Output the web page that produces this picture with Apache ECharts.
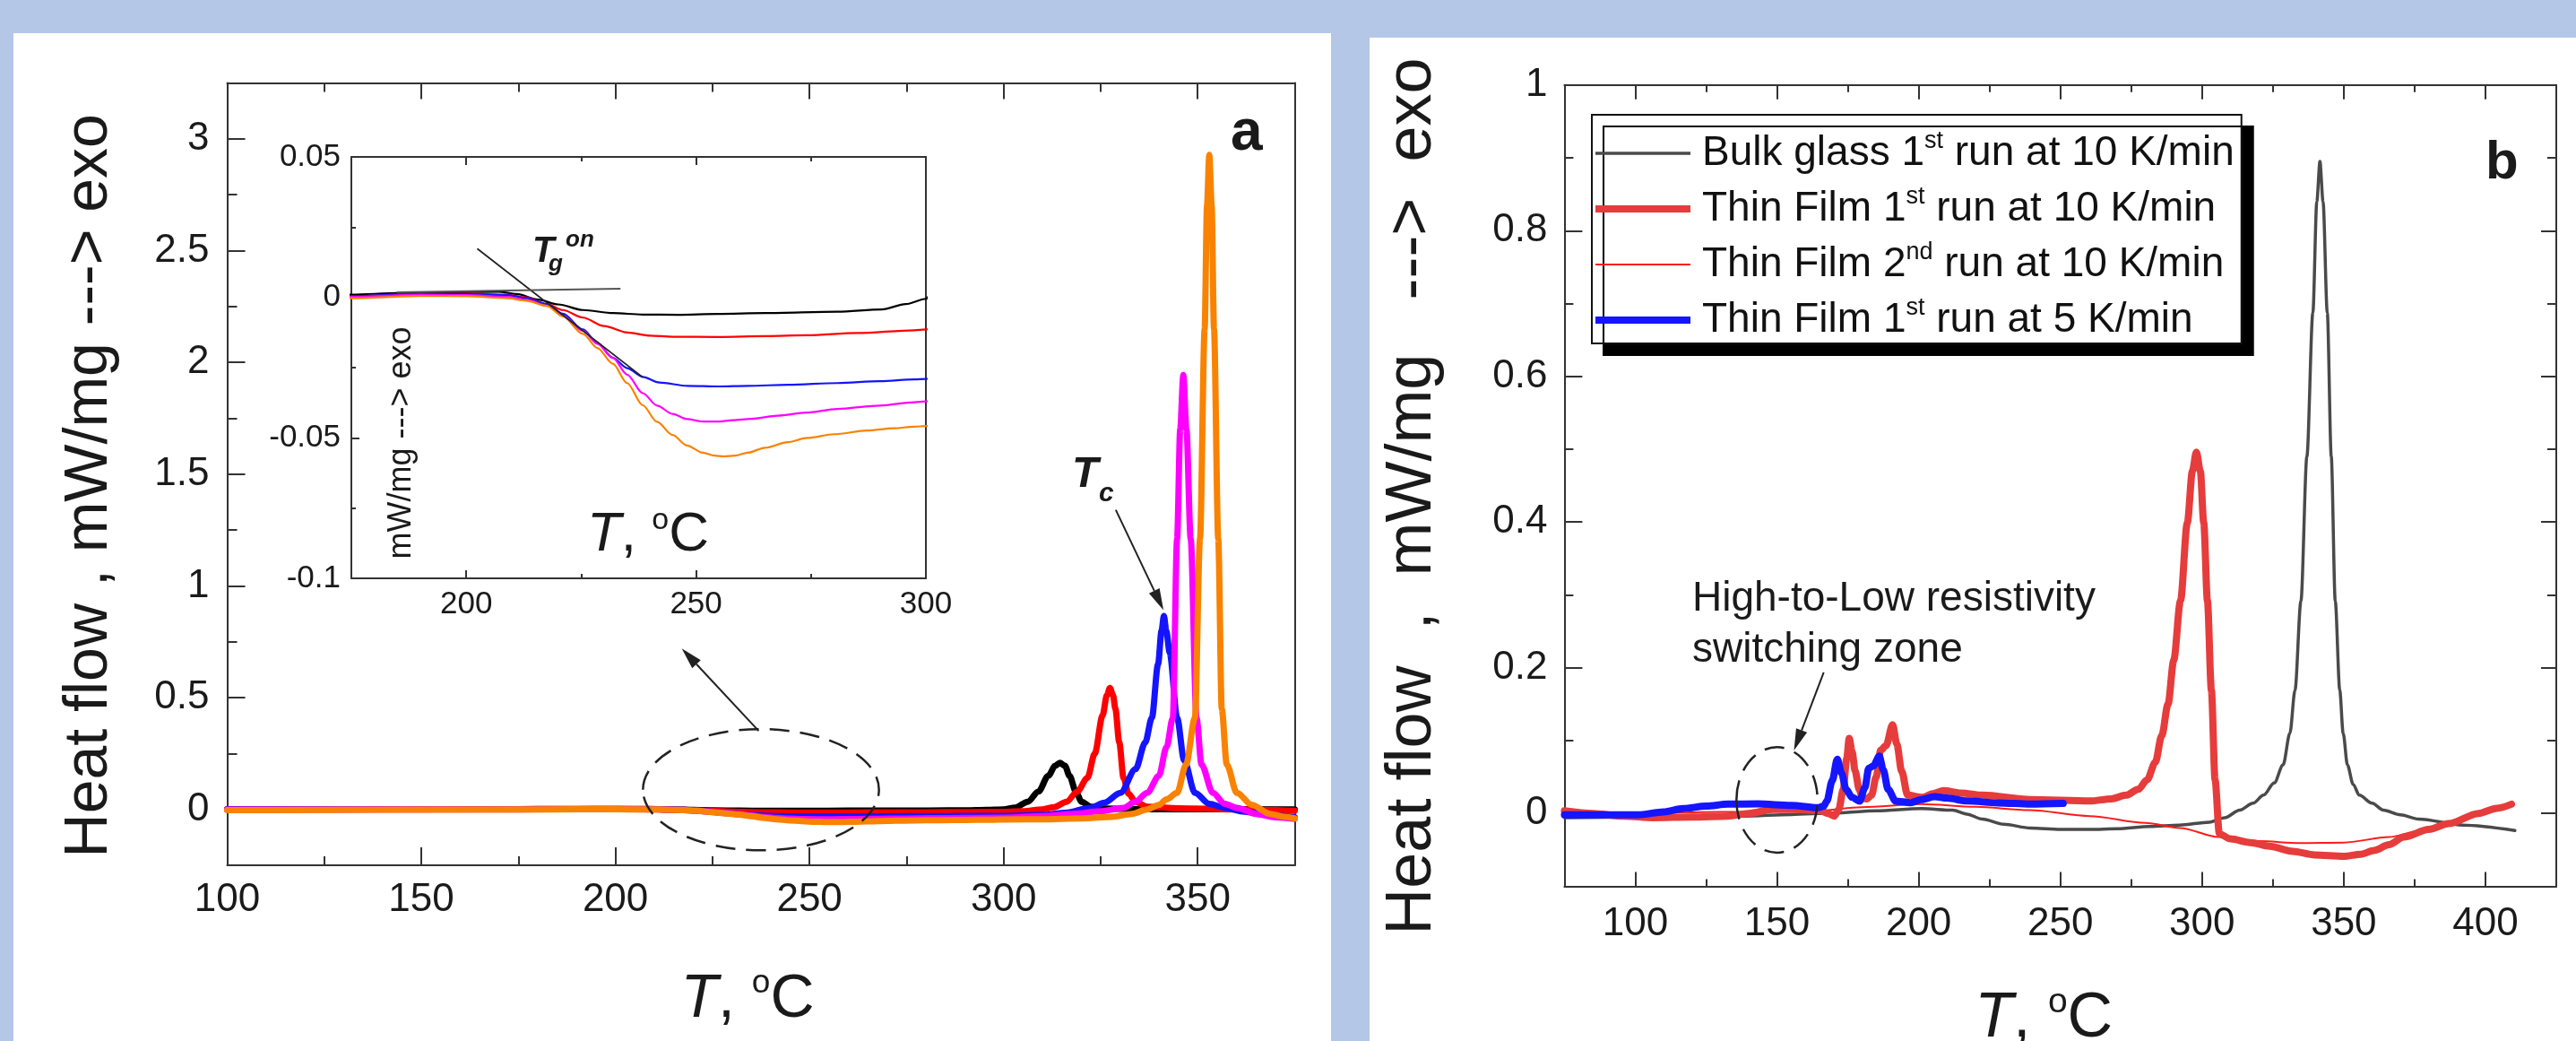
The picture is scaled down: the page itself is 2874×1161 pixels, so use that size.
<!DOCTYPE html>
<html>
<head>
<meta charset="utf-8">
<script src="https://cdn.jsdelivr.net/npm/echarts@6/dist/echarts.min.js"></script>
<style>
  html, body { margin: 0; padding: 0; background: #b4c7e7; }
  #chart { width: 2874px; height: 1161px; }
</style>
</head>
<body>
<div id="chart"></div>
<script>
// ---------- panel a: DSC scans of the thin films (T in °C, heat flow in mW/mg) ----------
const aBlack = [[100,0.001],[150,0.001],[175,0.001],[185,0.0015],[196,0.0018],[207,0.002],[211,0.0012],[215.6,-0.0008],[220,-0.0025],[225.4,-0.0045],[232,-0.0056],[238.4,-0.0061],[246,-0.0062],[254.7,-0.0059],[265,-0.0056],[280.7,-0.0051],[290.4,-0.0043],[295.6,-0.0024],[300,-0.0005],[303,0.008],[306.2,0.034],[309,0.08],[311.5,0.15],[313.3,0.195],[314.5,0.208],[315.8,0.195],[317,0.15],[318.6,0.08],[320.1,0.034],[322.5,0.012],[326,0.004],[335,0.001],[375,0.0]];
const aRed = [[100,0.0],[175,0.0005],[190,0.0012],[200,0.0013],[209,0.001],[213,0.0],[217.6,-0.0024],[221,-0.0045],[225.4,-0.0072],[230,-0.0102],[235.1,-0.0125],[240,-0.0136],[244.9,-0.014],[254.7,-0.0141],[265,-0.0138],[274.2,-0.0135],[285,-0.0127],[297.5,-0.0117],[300,-0.0114],[305,-0.008],[310,0.0],[313,0.01],[316.2,0.034],[319,0.08],[321.6,0.141],[323.5,0.25],[325.5,0.42],[326.6,0.51],[327.4,0.543],[328.2,0.51],[328.8,0.45],[329.8,0.3],[330.9,0.141],[332.2,0.07],[334,0.034],[337,0.012],[345,0.005],[360,0.0],[375,-0.006]];
const aBlue = [[100,0.0],[175,0.0005],[190,0.0012],[200,0.0012],[209,0.0008],[213,-0.0002],[217.6,-0.0024],[221,-0.0058],[225.4,-0.0114],[228.5,-0.0162],[231.9,-0.0215],[235,-0.0252],[238.4,-0.0283],[242,-0.0303],[248.2,-0.0315],[255,-0.0317],[261.2,-0.0315],[270,-0.0311],[280.7,-0.0305],[290,-0.0298],[297.5,-0.0292],[300,-0.029],[310,-0.025],[316,-0.015],[322.4,0.007],[326,0.03],[330.1,0.074],[334,0.18],[336.5,0.3],[338.2,0.41],[339.8,0.65],[340.7,0.8],[341.3,0.865],[341.9,0.8],[342.8,0.7],[344.7,0.41],[346.5,0.22],[349.3,0.074],[353,0.025],[357,0.007],[362,-0.01],[368,-0.025],[375,-0.035]];
const aMagenta = [[100,-0.001],[175,0.0002],[190,0.001],[200,0.0008],[209,0.0002],[213,-0.0008],[217.6,-0.003],[221,-0.0065],[225.4,-0.0119],[228.5,-0.0165],[231.9,-0.0215],[235,-0.0275],[238.4,-0.0341],[241.5,-0.0385],[244.9,-0.0415],[248,-0.0433],[251.5,-0.0442],[255,-0.0442],[258,-0.0437],[262,-0.0432],[267.7,-0.0421],[274,-0.041],[280.7,-0.0397],[290,-0.0385],[297.5,-0.0373],[300,-0.037],[310,-0.03],[318,-0.02],[325,-0.008],[330.9,0.007],[334,0.035],[337,0.074],[340,0.15],[342,0.28],[343.6,0.41],[344.7,1.21],[345.5,1.7],[346.3,1.943],[347.1,1.7],[348.2,1.21],[349.7,0.41],[351,0.2],[353.9,0.074],[357,0.025],[360.1,0.007],[365,-0.02],[370,-0.035],[375,-0.042]];
const aOrange = [[100,-0.003],[175,-0.0003],[190,0.0005],[200,0.0004],[209,-0.0003],[213,-0.0012],[217.6,-0.003],[221,-0.0068],[225.4,-0.013],[228.5,-0.018],[231.9,-0.0236],[235,-0.0305],[238.4,-0.0384],[241.5,-0.0443],[244.9,-0.049],[248,-0.0527],[251.5,-0.0553],[254,-0.0563],[256,-0.0566],[258.5,-0.0563],[261.2,-0.0553],[265,-0.0535],[270,-0.0515],[274.2,-0.05],[280,-0.0487],[287.2,-0.0474],[293,-0.0466],[297.5,-0.046],[300,-0.0458],[310,-0.044],[320,-0.04],[328,-0.033],[333,-0.02],[337,0.0],[340,0.02],[342,0.045],[344.7,0.074],[347,0.2],[349.3,0.41],[350.6,1.21],[351.8,2.15],[352.4,2.7],[353,2.928],[353.6,2.7],[354.2,2.15],[355.3,1.21],[356.2,0.45],[357.5,0.2],[360.1,0.074],[364,0.02],[368.6,-0.02],[372,-0.032],[375,-0.04]];

// tangent construction for the onset of the glass transition (inset)
const tgSteep = [[202.5,0.0172],[238.3,-0.0283]];
const tgFlat = [[185,0.0018],[233.4,0.0031]];

// ---------- panel b: bulk glass vs. thin film ----------
const bBulk = [[75,-0.006],[100,-0.005],[120,-0.0045],[138,-0.0037],[155,-0.0015],[170,0.0004],[185,0.0035],[201,0.0066],[212,0.0045],[217,-0.001],[222.5,-0.0078],[230,-0.015],[239.4,-0.02],[250,-0.022],[260.5,-0.022],[270,-0.021],[281.6,-0.018],[292,-0.016],[302.6,-0.012],[308,-0.006],[313.3,0.0045],[318,0.014],[321.7,0.025],[325.5,0.042],[328.6,0.0666],[331,0.11],[332.8,0.169],[334.9,0.292],[337,0.49],[339.1,0.687],[340.5,0.84],[341.6,0.895],[342.7,0.84],[344.2,0.687],[345.6,0.49],[347,0.292],[348.6,0.169],[349.8,0.11],[351.3,0.0666],[353.3,0.04],[355.5,0.025],[360,0.014],[364,0.0045],[370,-0.002],[376.4,-0.0078],[392,-0.016],[410.4,-0.0234]];
const bFilm1 = [[75,0.0037],[85,0.0],[95.7,-0.0037],[106.3,-0.0058],[120,-0.005],[132.7,-0.0037],[140,0.0],[148.5,0.0053],[157,0.0055],[165.4,0.0037],[168,0.0],[170.2,-0.0037],[171.8,0.005],[173.4,0.033],[174.6,0.075],[175.5,0.103],[176.5,0.085],[177.6,0.058],[179,0.033],[180.2,0.021],[181.8,0.02],[183.4,0.025],[185,0.05],[186.6,0.0868],[188.5,0.093],[190.8,0.1218],[192.3,0.095],[194,0.058],[196.1,0.025],[201.4,0.022],[205,0.027],[208.8,0.0313],[215,0.028],[222.5,0.025],[239.4,0.019],[260.5,0.017],[268,0.02],[273.2,0.025],[277.5,0.033],[280.6,0.046],[283.5,0.07],[285.8,0.107],[288,0.15],[290,0.21],[292.4,0.292],[294.8,0.399],[296.6,0.47],[298,0.496],[299.4,0.47],[300.6,0.399],[301.9,0.292],[303.3,0.169],[304.6,0.046],[306.1,-0.028],[310,-0.035],[317,-0.04],[323.8,-0.045],[332,-0.052],[339.7,-0.057],[350,-0.059],[356,-0.056],[360.7,-0.051],[366,-0.043],[371.2,-0.0325],[380,-0.022],[387,-0.014],[397.6,0.0],[404,0.007],[409.2,0.0127]];
const bFilm2 = [[75,0.001],[100,0.0],[130,0.002],[150,0.003],[164.4,0.0037],[180,0.0086],[201,0.0127],[220,0.009],[239,0.0045],[260.5,-0.0037],[280,-0.013],[292.2,-0.02],[305.9,-0.0325],[320,-0.038],[334.4,-0.0407],[350,-0.04],[366,-0.0325],[376.6,-0.024],[387,-0.014],[397.6,-0.001],[409.2,0.0125]];
const bFilm5 = [[75,-0.002],[101,-0.002],[110,0.002],[116.9,0.0066],[125,0.01],[132.7,0.0127],[143.3,0.013],[155,0.011],[164.4,0.0078],[166.5,0.01],[167.6,0.0169],[169.5,0.045],[171.3,0.0744],[172.8,0.055],[174.4,0.033],[176.5,0.022],[179.2,0.0169],[181,0.035],[182.4,0.062],[184,0.065],[186.1,0.0786],[187.5,0.06],[189.2,0.033],[191.9,0.0169],[197.1,0.0148],[201,0.019],[205.6,0.023],[210,0.021],[217.2,0.017],[228,0.0145],[239.4,0.0127],[251,0.0137]];

const legendNames = ['Bulk glass 1st run at 10 K/min','Thin Film 1st run at 10 K/min','Thin Film 2nd run at 10 K/min','Thin Film 1st run at 5 K/min'];

// ---------- tick values ----------
const aXMajor = [100,150,200,250,300,350];
const aXMinor = [125,175,225,275,325,375];
const aYMajor = [0,0.5,1,1.5,2,2.5,3];
const aYMinor = [0.25,0.75,1.25,1.75,2.25,2.75];
const inXMajor = [200,250,300];
const inXMinor = [175,225,275];
const inYMajor = [-0.1,-0.05,0,0.05];
const inYMinor = [-0.075,-0.025,0.025];
const bXMajor = [100,150,200,250,300,350,400];
const bXMinor = [75,125,175,225,275,325,375,425];
const bYMajor = [0,0.2,0.4,0.6,0.8,1];
const bYMinor = [-0.1,0.1,0.3,0.5,0.7,0.9];

// annotation anchors in data units
const ellipseA = { c: [237.5, 0.088], rx: 30.4, ry: 0.271 };
const ellipseB = { c: [150, 0.0185], rx: 14.3, ry: 0.0724 };
const arrowA = [[236.9, 0.351], [217.1, 0.72]];
const arrowTc = [[328.9, 1.34], [341.2, 0.891]];
const arrowB = [[166.5, 0.1937], [156, 0.0864]];

const FONT = '"Liberation Sans", Arial, Helvetica, sans-serif';
const INK = '#1a1a1a';
const AX = { color: '#333', width: 2 };

function ax(grid, pos, min, max, o) {
  const a = {
    type: 'value', gridIndex: grid, position: pos, min: min, max: max,
    axisLine: { show: !!o.line, onZero: false, lineStyle: AX },
    axisTick: { show: !!o.ticks, inside: true, length: o.len || 10, lineStyle: AX },
    axisLabel: { show: false },
    splitLine: { show: false }, splitArea: { show: false }
  };
  if (o.ticks) a.axisTick.customValues = o.ticks;
  if (o.labels) a.axisLabel = { show: true, customValues: o.labels, fontSize: o.fs, fontFamily: FONT, color: INK, margin: o.margin };
  if (o.name) Object.assign(a, o.name);
  return a;
}

const tTitle = (fs, gap, padRight) => ({
  name: '{i|T}{n|, }{s|o}{n|C}', nameLocation: 'middle', nameGap: gap,
  nameTextStyle: {
    color: INK, fontFamily: FONT, padding: [0, padRight, 0, 0],
    rich: {
      i: { fontSize: fs, fontStyle: 'italic', fontFamily: FONT, color: INK, lineHeight: fs + 6 },
      n: { fontSize: fs, fontFamily: FONT, color: INK, lineHeight: fs + 6 },
      s: { fontSize: Math.round(fs * 0.55), fontFamily: FONT, color: INK, lineHeight: Math.round(fs * 0.6), verticalAlign: 'top' }
    }
  }
});
const hTitle = (text, fs, gap, padRight) => ({
  name: text, nameLocation: 'middle', nameGap: gap,
  nameTextStyle: { fontSize: fs, fontFamily: FONT, color: INK, lineHeight: fs, padding: [0, padRight, 0, 0] }
});

const xAxis = [
  // panel a
  ax(0, 'bottom', 100, 375, { line: true, ticks: aXMajor, len: 20, labels: aXMajor, fs: 44, margin: 17, name: tTitle(68, 113, 30) }),
  ax(0, 'bottom', 100, 375, { ticks: aXMinor, len: 10 }),
  ax(0, 'top', 100, 375, { line: true, ticks: aXMajor, len: 18 }),
  ax(0, 'top', 100, 375, { ticks: aXMinor, len: 10 }),
  // inset
  ax(1, 'bottom', 175, 300, { line: true, ticks: inXMajor, len: 9, labels: inXMajor, fs: 35, margin: 12 }),
  ax(1, 'bottom', 175, 300, { ticks: inXMinor, len: 5 }),
  ax(1, 'top', 175, 300, { line: true, ticks: inXMajor, len: 9 }),
  ax(1, 'top', 175, 300, { ticks: inXMinor, len: 5 }),
  // panel b
  ax(2, 'bottom', 75, 425, { line: true, ticks: bXMajor, len: 16, labels: bXMajor, fs: 44, margin: 20, name: tTitle(70, 110, 37) }),
  ax(2, 'bottom', 75, 425, { ticks: bXMinor, len: 8 }),
  ax(2, 'top', 75, 425, { line: true, ticks: bXMajor, len: 16 }),
  ax(2, 'top', 75, 425, { ticks: bXMinor, len: 8 })
];
const yAxis = [
  // panel a
  ax(0, 'left', -0.25, 3.25, { line: true, ticks: aYMajor, len: 20, labels: aYMajor, fs: 44, margin: 20, name: hTitle('Heat flow , mW/mg ---> exo', 68, 119, 26) }),
  ax(0, 'left', -0.25, 3.25, { ticks: aYMinor, len: 11 }),
  ax(0, 'right', -0.25, 3.25, { line: true }),
  // inset
  ax(1, 'left', -0.1, 0.05, { line: true, ticks: inYMajor, len: 9, labels: inYMajor, fs: 35, margin: 12 }),
  ax(1, 'left', -0.1, 0.05, { ticks: inYMinor, len: 5 }),
  ax(1, 'right', -0.1, 0.05, { line: true }),
  // panel b
  ax(2, 'left', -0.1, 1, { line: true, ticks: bYMajor, len: 20, labels: bYMajor, fs: 44, margin: 19, name: hTitle('Heat flow  ,  mW/mg   --->  exo', 72, 133, 24) }),
  ax(2, 'left', -0.1, 1, { ticks: bYMinor, len: 10 }),
  ax(2, 'right', -0.1, 1, { line: true, ticks: bYMajor, len: 17 }),
  ax(2, 'right', -0.1, 1, { ticks: bYMinor, len: 10 })
];

function curve(name, data, xi, yi, color, width, z) {
  return {
    type: 'line', name: name, data: data, xAxisIndex: xi, yAxisIndex: yi,
    showSymbol: false, symbol: 'none', smooth: 0.3, smoothMonotone: 'x',
    lineStyle: { color: color, width: width, cap: 'round', join: 'round' },
    itemStyle: { color: color }, z: z, silent: true, clip: true
  };
}

const bWidths = [3.5, 8, 2, 8];
const series = [
  curve('a black', aBlack, 0, 0, '#000000', 7, 2),
  curve('a red', aRed, 0, 0, '#ff0000', 7, 3),
  curve('a blue', aBlue, 0, 0, '#1414ff', 7, 4),
  curve('a magenta', aMagenta, 0, 0, '#ff00ff', 7, 5),
  curve('a orange', aOrange, 0, 0, '#f98200', 7, 6),
  curve('inset black', aBlack, 4, 3, '#000000', 2.2, 12),
  curve('inset red', aRed, 4, 3, '#ff0000', 2.2, 12),
  curve('inset blue', aBlue, 4, 3, '#1414ff', 2.2, 12),
  curve('inset magenta', aMagenta, 4, 3, '#ff00ff', 2.2, 12),
  curve('inset orange', aOrange, 4, 3, '#f98200', 2.2, 12),
  Object.assign(curve('tangent steep', tgSteep, 4, 3, '#222222', 1.8, 14), { smooth: false }),
  Object.assign(curve('tangent flat', tgFlat, 4, 3, '#555555', 2, 14), { smooth: false }),
  curve(legendNames[0], bBulk, 8, 6, '#4a4a4a', bWidths[0], 2),
  curve(legendNames[2], bFilm2, 8, 6, '#ff1a1a', bWidths[2], 3),
  curve(legendNames[1], bFilm1, 8, 6, '#e63c3c', bWidths[1], 4),
  curve(legendNames[3], bFilm5, 8, 6, '#1515ff', bWidths[3], 5)
];

const gridBase = { containLabel: false, outerBoundsMode: 'none' };
const option = {
  backgroundColor: '#b4c7e7',
  animation: false,
  grid: [
    Object.assign({ left: 253.5, top: 92.5, width: 1191, height: 872.5 }, gridBase),
    Object.assign({ left: 392, top: 175, width: 641, height: 470, show: true, backgroundColor: '#ffffff', borderWidth: 0 }, gridBase),
    Object.assign({ left: 1745.4, top: 94.8, width: 1106.6, height: 893.6 }, gridBase)
  ],
  xAxis: xAxis,
  yAxis: yAxis,
  legend: {
    // legend swatches: horizontal bars as thick as each curve
    data: legendNames.map((n, i) => ({ name: n, icon: 'path://M0 0H106V' + bWidths[i] + 'H0Z' })),
    orient: 'vertical', left: 1776, top: 128,
    itemWidth: 106, itemHeight: 14, itemGap: 12, selectedMode: false, symbolKeepAspect: true,
    padding: [16, 8, 3, 4],
    backgroundColor: '#ffffff', borderColor: '#111', borderWidth: 2,
    shadowColor: '#000', shadowBlur: 0, shadowOffsetX: 13, shadowOffsetY: 13,
    formatter: function (name) {
      return name.replace(/(\d)(st|nd)\b/, '$1{sup|$2}').replace(/^([^{]*)\{/, '{t|$1}{').replace(/\}([^}]*)$/, '}{t|$1}');
    },
    textStyle: {
      fontSize: 46, fontFamily: FONT, color: '#111', padding: [0, 0, 0, 8],
      rich: {
        t: { fontSize: 46, fontFamily: FONT, color: '#111', lineHeight: 54 },
        sup: { fontSize: 27, fontFamily: FONT, color: '#111', lineHeight: 30, verticalAlign: 'top' }
      }
    }
  },
  series: series
};

const chart = echarts.init(document.getElementById('chart'), null, { renderer: 'canvas' });
chart.setOption(option);

// ---------- annotations ----------
const px = (si, p) => chart.convertToPixel({ seriesIndex: si }, p);
function arrowGfx(si, seg) {
  const p0 = px(si, seg[0]), p1 = px(si, seg[1]);
  const dx = p1[0] - p0[0], dy = p1[1] - p0[1], L = Math.hypot(dx, dy);
  const ux = dx / L, uy = dy / L, head = 24, half = 6.5;
  const bx = p1[0] - ux * head, by = p1[1] - uy * head;
  return [
    { type: 'line', z: 50, shape: { x1: p0[0], y1: p0[1], x2: bx, y2: by }, style: { stroke: '#222', lineWidth: 2 } },
    { type: 'polygon', z: 50, shape: { points: [p1, [bx - uy * half, by + ux * half], [bx + uy * half, by - ux * half]] }, style: { fill: '#222' } }
  ];
}
function ellipseGfx(si, e) {
  const c = px(si, e.c), ex = px(si, [e.c[0] + e.rx, e.c[1]]), ey = px(si, [e.c[0], e.c[1] + e.ry]);
  return { type: 'ellipse', z: 50, shape: { cx: c[0], cy: c[1], rx: Math.abs(ex[0] - c[0]), ry: Math.abs(c[1] - ey[1]) },
    style: { fill: 'none', stroke: '#222', lineWidth: 2.5, lineDash: [22, 12] } };
}
function txt(x, y, text, font, extra) {
  return Object.assign({ type: 'text', z: 60, x: x, y: y,
    style: { text: text, font: font, fill: INK, align: 'left', verticalAlign: 'middle' } }, extra || {});
}
const BI = (s) => 'italic bold ' + s + 'px ' + FONT;

const graphics = [
  { type: 'rect', z: -10, shape: { x: 15, y: 37, width: 1470, height: 1124 }, style: { fill: '#ffffff' } },
  { type: 'rect', z: -10, shape: { x: 1528, y: 42, width: 1346, height: 1119 }, style: { fill: '#ffffff' } },
  ellipseGfx(0, ellipseA),
  ellipseGfx(12, ellipseB),
  ...arrowGfx(0, arrowA),
  ...arrowGfx(0, arrowTc),
  ...arrowGfx(12, arrowB),
  txt(1373, 149.5, 'a', 'bold 64px ' + FONT),
  txt(2773, 182.5, 'b', 'bold 60px ' + FONT),
  txt(1196, 530, 'T', BI(48)),
  txt(1226, 551, 'c', BI(30)),
  txt(594, 281, 'T', BI(40)),
  txt(612, 294.5, 'g', BI(26)),
  txt(631, 267.5, 'on', BI(26)),
  txt(1888, 668.8, 'High-to-Low resistivity', '46px ' + FONT),
  txt(1888, 725.8, 'switching zone', '46px ' + FONT),
  { type: 'text', z: 60, x: 448, y: 494, rotation: Math.PI / 2,
    style: { text: 'mW/mg ---> exo', font: '36px ' + FONT, fill: INK, align: 'center', verticalAlign: 'middle' } },
  { type: 'text', z: 60, x: 723, y: 596.5,
    style: { text: '{i|T}{n|, }{s|o}{n|C}', align: 'center', verticalAlign: 'middle',
      rich: {
        i: { fontSize: 62, fontStyle: 'italic', fontFamily: FONT, fill: INK, lineHeight: 66 },
        n: { fontSize: 62, fontFamily: FONT, fill: INK, lineHeight: 66 },
        s: { fontSize: 34, fontFamily: FONT, fill: INK, lineHeight: 36, verticalAlign: 'top' }
      } } }
];
chart.setOption({ graphic: graphics });
</script>
</body>
</html>
